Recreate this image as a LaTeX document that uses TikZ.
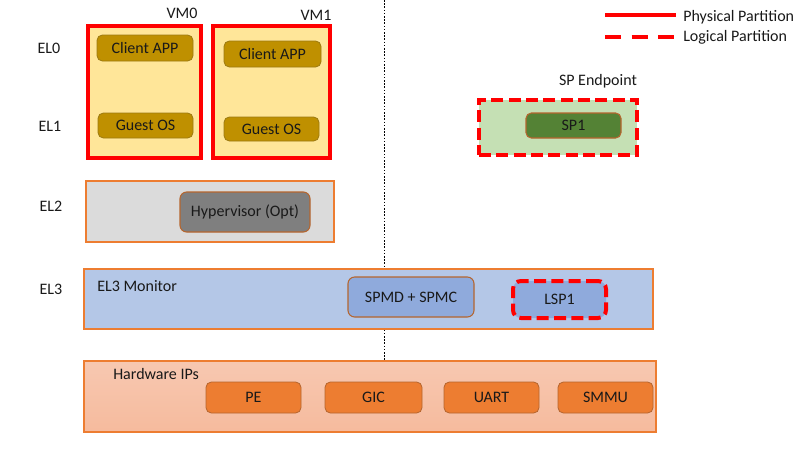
\documentclass[tikz,border=0pt]{standalone}
\usepackage{fontspec}
\setmainfont{Carlito}
\usetikzlibrary{positioning}
\definecolor{vmfill}{HTML}{FFE699}
\definecolor{gold}{HTML}{BF9000}
\definecolor{goldb}{HTML}{9C7A12}
\definecolor{spfill}{HTML}{C5E0B4}
\definecolor{spgreen}{HTML}{548235}
\definecolor{greyfill}{HTML}{DBDBDB}
\definecolor{hypfill}{HTML}{7F7F7F}
\definecolor{orangeb}{HTML}{ED7D31}
\definecolor{brownb}{HTML}{B5652E}
\definecolor{bluefill}{HTML}{B4C7E7}
\definecolor{blue2}{HTML}{8FAADC}
\definecolor{hwfill}{HTML}{F6BEA3}
\definecolor{pred}{HTML}{FF0000}
\tikzset{
  x=0.75pt, y=-0.75pt,
  every node/.style={font=\fontsize{12}{14}\selectfont, text=black!90, inner sep=0pt},
  sz/.style 2 args={minimum width=#1*0.75pt, minimum height=#2*0.75pt},
  physbox/.style={draw=pred, line width=3pt, fill=vmfill},
  logbox/.style={draw=pred, line width=3pt, dash pattern=on 9pt off 4pt},
  goldbox/.style={draw=goldb, fill=gold, rounded corners=4pt, line width=0.6pt},
  layerbox/.style={draw=orangeb, line width=0.8pt},
  innerbox/.style={draw=brownb, rounded corners=5pt, line width=0.8pt},
  hwbox/.style={draw=brownb, fill=orangeb, rounded corners=4pt, line width=0.6pt},
  lbl/.style={},
}
\begin{document}
\begin{tikzpicture}
\useasboundingbox (0,0) rectangle (800,462);
% dotted divider
\coordinate (dtop) at (384,0);
\coordinate (dbot) at (384,361);
\draw[dash pattern=on 1.2pt off 1.2pt, line width=0.6pt] (dtop) -- (dbot);

% EL labels
\node[lbl] (el0) at (49,48) {EL0};
\node[lbl] (el1) at (50,126) {EL1};
\node[lbl] (el2) at (51,206) {EL2};
\node[lbl] (el3) at (51,289) {EL3};

% VMs
\node[physbox, sz={113}{132}] (vm0) at (144.5,91.5) {};
\node[physbox, sz={117}{132}] (vm1) at (271.5,91.5) {};
\node[lbl] (vm0l) at (182,13) {VM0};
\node[lbl] (vm1l) at (316,15) {VM1};
\node[goldbox, sz={96}{26}] (ca0) at (145,48) {Client APP};
\node[goldbox, sz={95}{25}] (go0) at (145.5,125.5) {Guest OS};
\node[goldbox, sz={97}{26}] (ca1) at (272.5,54) {Client APP};
\node[goldbox, sz={95}{24}] (go1) at (271.5,129) {Guest OS};

% legend
\coordinate (l1a) at (605,15);
\coordinate (l1b) at (676,15);
\coordinate (l2a) at (605,37);
\coordinate (l2b) at (676,37);
\draw[pred, line width=3pt] (l1a) -- (l1b);
\draw[pred, line width=3pt, dash pattern=on 12pt off 8pt] (l2a) -- (l2b);
\node[lbl, anchor=west] (legphys) at (683,17) {Physical Partition};
\node[lbl, anchor=west] (leglog) at (683,37) {Logical Partition};

% SP endpoint
\node[lbl] (spep) at (598,81) {SP Endpoint};
\node[logbox, fill=spfill, sz={158}{55}] (spbox) at (558,127.5) {};
\node[innerbox, fill=spgreen, rounded corners=4pt, sz={95}{25}] (sp1) at (573.5,125.5) {SP1};

% EL2
\node[layerbox, fill=greyfill, sz={248}{61}] (el2box) at (210,211.5) {};
\node[innerbox, fill=hypfill, sz={130}{40}] (hyp) at (245,212) {Hypervisor (Opt)};

% EL3
\node[layerbox, fill=bluefill, sz={569}{60}] (el3box) at (368.5,299) {};
\node[lbl, anchor=west] (el3mon) at (97,286) {EL3 Monitor};
\node[innerbox, fill=blue2, sz={126}{40}] (spmd) at (411,297) {SPMD + SPMC};
\node[logbox, fill=blue2, rounded corners=6pt, sz={93}{37}] (lsp1) at (559.5,299.5) {LSP1};

% Hardware
\node[layerbox, top color=hwfill!85!white, bottom color=hwfill!95!orangeb, sz={572}{71}] (hwbox) at (370,396.5) {};
\node[lbl, anchor=west] (hwl) at (113,374) {Hardware IPs};
\node[hwbox, sz={95}{31}] (pe) at (253.5,397.5) {PE};
\node[hwbox, sz={97}{31}] (gic) at (373.5,397.5) {GIC};
\node[hwbox, sz={95}{31}] (uart) at (491.5,397.5) {UART};
\node[hwbox, sz={95}{31}] (smmu) at (605.5,397.5) {SMMU};
\end{tikzpicture}
\end{document}
